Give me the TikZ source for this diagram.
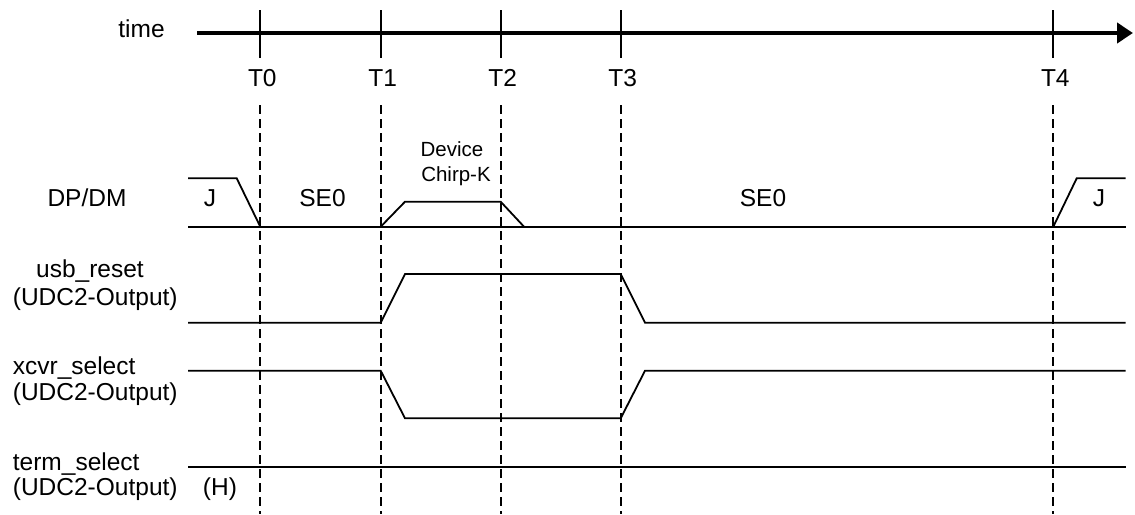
\documentclass[tikz,border=0pt]{standalone}
\usepackage{fontspec}
\setmainfont{Liberation Sans}
\usetikzlibrary{arrows.meta}
\begin{document}
\begin{tikzpicture}[x=1pt,y=-1pt,
  lbl/.style={font=\fontsize{24.5}{28}\selectfont, inner sep=0pt, anchor=base},
  lbll/.style={lbl, anchor=base west},
  small/.style={font=\fontsize{20.5}{21}\selectfont, inner sep=0pt, anchor=base},
  sig/.style={line width=1.8pt, line join=miter},
  guide/.style={line width=2pt, dash pattern=on 9pt off 5pt},
  tick/.style={line width=1.8pt},
  axis/.style={line width=4pt, -{Triangle[length=16pt,width=20pt]}}]
\useasboundingbox (0,0) rectangle (1135,514);
% time axis
\coordinate (ax0) at (197,33);
\coordinate (ax1) at (1133,33);
\draw[axis] (ax0) -- (ax1);
\node[lbl] (time) at (141.5,37.7) {time};
\foreach \x/\n in {260.3/0,380.7/1,500.7/2,620.7/3,1053.3/4}{
  \coordinate (ta\n) at (\x,10);
  \coordinate (tb\n) at (\x,58);
  \draw[tick] (ta\n) -- (tb\n);
  \node[lbl] (tl\n) at (\x+2,86.7) {T\n};
  \coordinate (ga\n) at (\x,105);
  \coordinate (gb\n) at (\x,514);
  \draw[guide] (ga\n) -- (gb\n);
}
% DP/DM
\node[lbl] (dpdm) at (87,206.7) {DP/DM};
\draw[sig] (188,178.3) -- (236.7,178.3) -- (260.3,226.7);
\draw[sig] (188,226.7) -- (1125.7,226.7);
\draw[sig] (380.7,226.7) -- (405,201.7) -- (500.7,201.7) -- (524,226.7);
\draw[sig] (1053.3,226.7) -- (1076.7,178.3) -- (1125.7,178.3);
\node[lbl] (j1) at (210,206.7) {J};
\node[lbl] (se1) at (322.5,206.7) {SE0};
\node[lbl] (se2) at (763,206.7) {SE0};
\node[lbl] (j2) at (1099,206.7) {J};
\node[small] (dev) at (452,156.7) {Device};
\node[small] (chirp) at (456,181.7) {Chirp-K};
% usb_reset
\node[lbl] (ur1) at (90,277.7) {usb\_reset};
\node[lbll] (ur2) at (12.7,305.7) {(UDC2-Output)};
\draw[sig] (188,322.7) -- (380.7,322.7) -- (405,274) -- (620.7,274) -- (645,322.7) -- (1125.7,322.7);
% xcvr_select
\node[lbll] (xs1) at (12.7,374) {xcvr\_select};
\node[lbll] (xs2) at (12.7,400.7) {(UDC2-Output)};
\draw[sig] (188,370.7) -- (380.7,370.7) -- (405,418.3) -- (620.7,418.3) -- (645,370.7) -- (1125.7,370.7);
% term_select
\node[lbll] (ts1) at (12.7,470) {term\_select};
\node[lbll] (ts2) at (12.7,495) {(UDC2-Output)};
\node[lbl] (h) at (220,495) {(H)};
\draw[sig] (188,466.7) -- (1125.7,466.7);
\end{tikzpicture}
\end{document}
